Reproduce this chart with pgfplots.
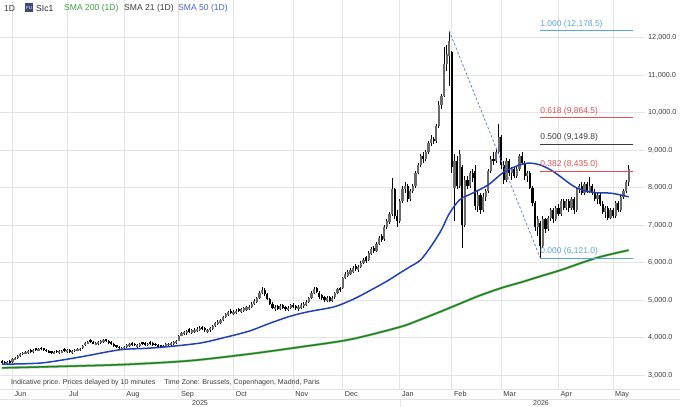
\documentclass[border=0pt]{standalone}
\usepackage{pgfplots}
\pgfplotsset{compat=1.18}
\usepackage{pgfplotstable}
\usepackage{fontspec}
\setmainfont{Liberation Sans}
\definecolor{smagreen}{RGB}{30,130,30}
\definecolor{smagreentxt}{RGB}{60,160,60}
\definecolor{smablue}{RGB}{32,64,184}
\definecolor{smabluetxt}{RGB}{70,100,200}
\definecolor{fibred}{RGB}{225,80,80}
\definecolor{fibblue}{RGB}{90,165,215}
\definecolor{fibgray}{RGB}{60,60,60}
\definecolor{dashblue}{RGB}{100,130,200}
\definecolor{gridc}{RGB}{228,228,228}
\definecolor{upc}{RGB}{105,105,105}
\definecolor{txt}{RGB}{60,60,60}
\definecolor{iconc}{RGB}{60,74,122}

\pgfplotstableread{
i o h l c
0 3380 3400 3305 3330
1 3360 3380 3285 3310
2 3290 3365 3270 3340
3 3370 3390 3295 3320
4 3350 3455 3330 3430
5 3410 3485 3390 3460
6 3460 3545 3440 3520
7 3510 3585 3490 3560
8 3550 3625 3530 3600
9 3570 3640 3550 3610
10 3590 3665 3570 3640
11 3670 3690 3595 3620
12 3620 3705 3600 3680
13 3710 3730 3635 3660
14 3650 3725 3630 3700
15 3730 3750 3665 3690
16 3710 3730 3635 3660
17 3680 3700 3615 3640
18 3650 3670 3575 3600
19 3630 3650 3565 3590
20 3570 3645 3550 3620
21 3650 3670 3585 3610
22 3580 3655 3560 3630
23 3600 3675 3580 3650
24 3690 3710 3615 3640
25 3610 3685 3590 3660
26 3670 3690 3595 3620
27 3590 3665 3570 3640
28 3630 3705 3610 3680
29 3650 3715 3630 3690
30 3660 3725 3640 3700
31 3710 3805 3690 3780
32 3790 3885 3770 3860
33 3840 3915 3820 3890
34 3930 3950 3855 3880
35 3890 3910 3815 3840
36 3810 3885 3790 3860
37 3830 3905 3810 3880
38 3860 3935 3840 3910
39 3880 3955 3860 3930
40 3950 3970 3875 3900
41 3910 3930 3835 3860
42 3880 3900 3805 3830
43 3830 3850 3755 3780
44 3790 3810 3715 3740
45 3760 3780 3685 3710
46 3680 3755 3660 3730
47 3710 3785 3690 3760
48 3750 3825 3730 3800
49 3770 3845 3750 3820
50 3860 3880 3785 3810
51 3840 3860 3765 3790
52 3750 3825 3730 3800
53 3780 3855 3760 3830
54 3870 3890 3795 3820
55 3860 3880 3785 3810
56 3790 3865 3770 3840
57 3880 3900 3805 3830
58 3860 3880 3785 3810
59 3840 3860 3765 3790
60 3810 3830 3735 3760
61 3790 3810 3715 3740
62 3730 3805 3710 3780
63 3770 3845 3750 3820
64 3790 3865 3770 3840
65 3800 3875 3780 3850
66 3820 3895 3800 3870
67 3850 3925 3830 3900
68 3920 4080 3900 4050
69 4050 4160 4030 4130
70 4090 4185 4060 4150
71 4110 4205 4080 4170
72 4220 4250 4130 4160
73 4130 4225 4100 4190
74 4150 4245 4120 4210
75 4180 4275 4150 4240
76 4200 4295 4170 4260
77 4280 4310 4190 4220
78 4250 4280 4160 4190
79 4140 4235 4110 4200
80 4190 4285 4160 4250
81 4240 4335 4210 4300
82 4300 4415 4270 4380
83 4360 4455 4330 4420
84 4400 4495 4370 4460
85 4470 4585 4440 4550
86 4550 4655 4520 4620
87 4610 4715 4580 4680
88 4720 4750 4620 4650
89 4620 4725 4590 4690
90 4650 4755 4620 4720
91 4770 4800 4670 4700
92 4690 4795 4660 4760
93 4720 4825 4690 4790
94 4740 4845 4710 4810
95 4760 4855 4730 4820
96 4820 4940 4790 4900
97 4890 5020 4860 4980
98 4960 5090 4930 5050
99 5050 5240 5020 5200
100 5180 5350 5150 5280
101 5270 5310 5110 5150
102 5150 5190 4990 5030
103 5020 5060 4860 4900
104 4900 4940 4750 4790
105 4750 4860 4720 4820
106 4850 4880 4730 4770
107 4770 4890 4740 4850
108 4870 4900 4770 4800
109 4820 4850 4710 4750
110 4730 4840 4700 4800
111 4790 4900 4760 4860
112 4880 4910 4780 4810
113 4850 4880 4740 4780
114 4750 4860 4720 4820
115 4800 4910 4770 4870
116 4830 4940 4800 4900
117 4880 4990 4850 4950
118 4960 5090 4930 5050
119 5060 5250 5030 5200
120 5180 5350 5150 5300
121 5320 5350 5180 5220
122 5200 5240 5040 5080
123 5130 5160 5000 5050
124 5090 5120 4960 5000
125 4980 5100 4950 5060
126 5070 5100 4940 4980
127 4980 5100 4950 5060
128 5070 5220 5040 5180
129 5180 5330 5150 5290
130 5330 5360 5220 5260
131 5330 5620 5300 5580
132 5580 5750 5550 5700
133 5650 5790 5620 5740
134 5700 5850 5670 5800
135 5760 5910 5730 5860
136 5910 5950 5770 5820
137 5790 5930 5760 5880
138 5880 6050 5850 6000
139 5980 6130 5950 6080
140 6140 6180 6000 6050
141 6070 6300 6040 6250
142 6230 6410 6200 6350
143 6400 6440 6250 6300
144 6320 6550 6290 6500
145 6500 6710 6470 6650
146 6720 6760 6550 6600
147 6620 7000 6580 6950
148 6950 7160 6900 7100
149 7080 7360 7040 7300
150 7300 8250 7250 7950
151 7950 7980 7150 7250
152 7250 7400 6950 7100
153 7100 7700 7050 7650
154 7650 8050 7600 7950
155 7950 8150 7850 8050
156 8050 8100 7620 7700
157 7700 7950 7650 7900
158 7900 8100 7850 8050
159 8050 8450 8000 8400
160 8400 8650 8350 8600
161 8600 8900 8550 8850
162 8850 8950 8650 8750
163 8750 9000 8700 8950
164 8950 9250 8900 9200
165 9200 9400 9100 9300
166 9300 9350 9150 9250
167 9250 9700 9200 9650
168 9650 10300 9600 10200
169 10200 10500 10100 10450
170 10450 11750 10400 11300
171 11300 11800 11100 11550
172 11500 12178.5 10700 11900
173 11600 11650 8400 8550
174 8000 8900 7100 8700
175 8700 8850 7950 8050
176 8050 9000 8000 8900
177 8550 8600 6390 7000
178 7000 8300 6950 8200
179 8200 8300 7950 8050
180 8050 8450 8000 8400
181 8400 8500 8150 8250
182 8450 8600 7400 7500
183 7500 7900 7350 7800
184 7800 7850 7300 7400
185 7400 7850 7350 7750
186 7750 7950 7650 7900
187 7900 8500 7850 8450
188 8450 8850 8400 8750
189 8750 8950 8600 8700
190 8700 9050 8650 8950
191 8950 9700 8900 9350
192 9350 9400 8500 8600
193 8600 8700 8100 8200
194 8200 8800 8150 8700
195 8700 8750 8300 8400
196 8400 8550 8200 8500
197 8500 8550 8250 8300
198 8300 8550 8250 8500
199 8500 8900 8450 8850
200 8850 8950 8600 8650
201 8650 8700 8200 8300
202 8300 8450 8150 8400
203 8400 8450 7950 8000
204 8000 8050 7500 7600
205 7600 7650 6850 6950
206 6950 7250 6700 7150
207 7050 7100 6121 6450
208 6450 7250 6400 7150
209 7150 7200 6800 6900
210 6900 7250 6850 7200
211 7200 7450 7100 7400
212 7400 7450 7050 7150
213 7150 7500 7100 7450
214 7450 7550 7250 7300
215 7300 7700 7250 7650
216 7650 7700 7400 7450
217 7450 7700 7400 7650
218 7650 7700 7350 7450
219 7450 7750 7400 7700
220 7700 7750 7300 7400
221 7400 8000 7350 7950
222 7950 8100 7850 8050
223 8050 8150 7800 7850
224 7850 8150 7800 8100
225 8100 8150 7850 7900
226 7900 8280 7850 8050
227 8050 8100 7800 7850
228 7850 7950 7650 7700
229 7700 7850 7550 7800
230 7800 7850 7500 7550
231 7550 7650 7300 7350
232 7350 7500 7200 7450
233 7450 7500 7130 7200
234 7200 7450 7150 7400
235 7400 7450 7200 7250
236 7250 7650 7200 7600
237 7600 7650 7350 7400
238 7400 7800 7350 7750
239 7750 7950 7700 7900
240 7900 8200 7850 8150
241 8150 8600 8050 8500
}\candles

\newcommand\hdrf{\fontsize{8.6}{10}\selectfont}
\newcommand\tickf{\fontsize{7.3}{8}\selectfont}
\newcommand\fibf{\fontsize{8.5}{10}\selectfont}
\newcommand\smallf{\fontsize{7.1}{8}\selectfont}

\begin{document}
\begin{tikzpicture}
\path[use as bounding box] (0bp,0bp) rectangle (680bp,407bp);
\begin{axis}[
  at={(0bp,18bp)}, anchor=south west,
  scale only axis, width=645bp, height=389bp,
  xmin=-0.77, xmax=247.3, ymin=2627, ymax=13000,
  axis line style={draw=none},
  major tick length=0pt,
  grid=major, major grid style={draw=gridc, line width=0.8bp},
  xtick={4,25,47,68,89,112,131,153,173,192,214,235},
  xticklabels={Jun,Jul,Aug,Sep,Oct,Nov,Dec,Jan,Feb,Mar,Apr,May},
  xticklabel style={anchor=north west, inner sep=0pt, xshift=2bp, yshift=-2.5bp, font=\tickf, text=txt},
  ytick={3000,4000,5000,6000,7000,8000,9000,10000,11000,12000},
  yticklabels={{3,000.0},{4,000.0},{5,000.0},{6,000.0},{7,000.0},{8,000.0},{9,000.0},{10,000.0},{11,000.0},{12,000.0}},
  yticklabel pos=right,
  yticklabel style={anchor=west, inner sep=0pt, xshift=3bp, font=\tickf, text=txt},
  clip=false,
]
% SMA 200
\addplot[smagreen!40, line width=2.6bp, smooth, tension=0.5] coordinates {
(0,3190) (23,3230) (47,3280) (72,3380) (95,3560) (115,3750) (134,3950) (153,4280) (161,4480) (169,4700) (176,4900) (183,5100) (192,5320) (200,5480) (206,5610) (215,5800) (222,5970) (230,6150) (241,6330)};
\addplot[smagreen, line width=1.5bp, smooth, tension=0.5] coordinates {
(0,3190) (23,3230) (47,3280) (72,3380) (95,3560) (115,3750) (134,3950) (153,4280) (161,4480) (169,4700) (176,4900) (183,5100) (192,5320) (200,5480) (206,5610) (215,5800) (222,5970) (230,6150) (241,6330)};
% wicks
\addplot[draw=none, mark=none, error bars/.cd, y dir=plus, y explicit, error mark=none,
  error bar style={line width=0.7bp, draw=black}]
  table[x=i, y=l, y error plus expr=\thisrow{h}-\thisrow{l}] {\candles};
% up bodies
\addplot[draw=none, mark=none, error bars/.cd, y dir=plus, y explicit, error mark=none,
  error bar style={line width=2.2bp, draw=upc, line cap=butt}]
  table[x=i, y=o, y error plus expr={max(\thisrow{c}-\thisrow{o},0)}] {\candles};
% down bodies
\addplot[draw=none, mark=none, error bars/.cd, y dir=plus, y explicit, error mark=none,
  error bar style={line width=2.2bp, draw=black, line cap=butt}]
  table[x=i, y=c, y error plus expr={max(\thisrow{o}-\thisrow{c},0)}] {\candles};
% SMA 50
\addplot[smablue, line width=1.5bp, smooth, tension=0.5] coordinates {
(0,3290) (15,3320) (30,3480) (45,3670) (55,3710) (63,3750) (76,3850) (85,3990) (95,4170) (103,4380) (111,4570) (118,4690) (126,4790) (130,4870) (136,5050) (142,5270) (148,5500) (153,5720) (157,5890) (161,6070) (165,6430) (169,6870) (172,7300) (176,7670) (181,7850) (187,8070) (193,8410) (199,8600) (203,8650) (207,8600) (211,8470) (215,8280) (218,8120) (221,7990) (225,7900) (229,7860) (234,7850) (238,7800) (241,7750)};
% trend line
\addplot[dashblue, line width=0.8bp, dash pattern=on 2.5bp off 2bp] coordinates {(172,12178.5) (207,6121)};
% fib levels
\addplot[fibblue, line width=0.9bp] coordinates {(207,12178.5) (242.7,12178.5)};
\addplot[fibred, line width=0.9bp] coordinates {(207,9864.5) (242.7,9864.5)};
\addplot[fibgray, line width=0.9bp] coordinates {(207,9149.8) (242.7,9149.8)};
\addplot[fibred, line width=0.9bp] coordinates {(207,8435.0) (242.7,8435.0)};
\addplot[fibblue, line width=0.9bp] coordinates {(207,6121.0) (242.7,6121.0)};
\node[anchor=south west, inner sep=0pt, font=\fibf, text=fibblue] at (axis cs:207,12178.5) [yshift=2.5bp] {1.000 (12,178.5)};
\node[anchor=south west, inner sep=0pt, font=\fibf, text=fibred] at (axis cs:207,9864.5) [yshift=2.5bp] {0.618 (9,864.5)};
\node[anchor=south west, inner sep=0pt, font=\fibf, text=fibgray] at (axis cs:207,9149.8) [yshift=2.5bp] {0.500 (9,149.8)};
\node[anchor=south west, inner sep=0pt, font=\fibf, text=fibred] at (axis cs:207,8435.0) [yshift=2.5bp] {0.382 (8,435.0)};
\node[anchor=south west, inner sep=0pt, font=\fibf, text=fibblue] at (axis cs:207,6121.0) [yshift=2.5bp] {0.000 (6,121.0)};
\end{axis}
% bottom label rows
\draw[gridc, line width=0.8bp] (0bp,18bp) -- (680bp,18bp);
\draw[gridc, line width=0.8bp] (0bp,8bp) -- (680bp,8bp);
\draw[gridc, line width=0.8bp] (400bp,0bp) -- (400bp,8bp);
\node[font=\smallf, text=txt] at (200bp,3.5bp) {2025};
\node[font=\smallf, text=txt] at (541bp,3.5bp) {2026};
% footer note
\node[anchor=west, inner sep=0pt, font=\smallf, text=txt] at (11bp,24bp) {Indicative price. Prices delayed by 10 minutes\hspace{9bp}Time Zone: Brussels, Copenhagen, Madrid, Paris};
% header
\node[anchor=west, inner sep=0pt, font=\hdrf, text=txt] at (4bp,398.5bp) {1D};
\fill[iconc] (25bp,395bp) rectangle (33bp,404bp);
\node[inner sep=0pt, font=\fontsize{4.5}{5}\selectfont, text=white] at (29bp,399.5bp) {FU};
\node[anchor=west, inner sep=0pt, font=\hdrf, text=black!85] at (36bp,398.5bp) {SIc1};
\node[anchor=west, inner sep=0pt, font=\hdrf, text=smagreentxt] at (64bp,398.5bp) {SMA 200 (1D)};
\node[anchor=west, inner sep=0pt, font=\hdrf, text=txt] at (124bp,398.5bp) {SMA 21 (1D)};
\node[anchor=west, inner sep=0pt, font=\hdrf, text=smabluetxt] at (178bp,398.5bp) {SMA 50 (1D)};
\end{tikzpicture}
\end{document}
